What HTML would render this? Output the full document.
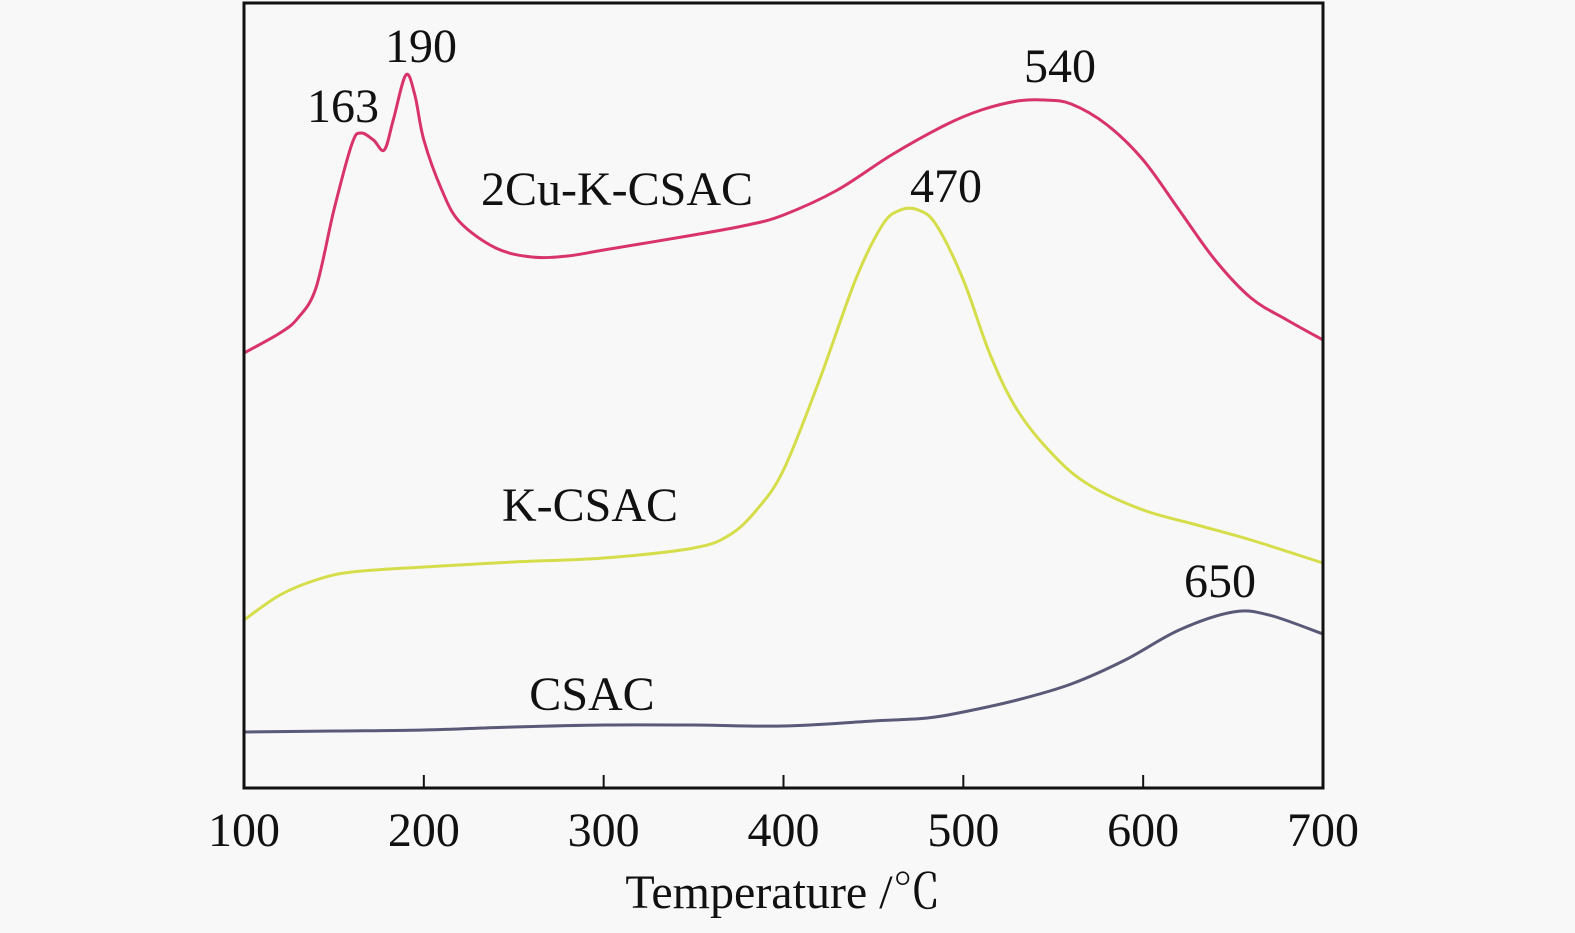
<!DOCTYPE html>
<html><head><meta charset="utf-8"><style>
html,body{margin:0;padding:0;background:#f8f8f8;}
svg{display:block;}
text{font-family:"Liberation Serif","Noto Serif CJK SC",serif;fill:#111;}
</style></head><body>
<svg id="chart" width="1575" height="933" viewBox="0 0 1575 933">
<rect width="1575" height="933" fill="#f8f8f8"/>
<g id="series"></g>
<rect x="244" y="3" width="1079" height="785" fill="none" stroke="#111" stroke-width="3"/>
<g id="ticks"></g>
<text x="783" y="908" font-size="48" text-anchor="middle">Temperature /℃</text>
<g font-size="48" text-anchor="middle">
<text x="421" y="62">190</text>
<text x="343" y="122">163</text>
<text x="1060" y="82">540</text>
<text x="617" y="205">2Cu-K-CSAC</text>
<text x="946" y="202">470</text>
<text x="590" y="521">K-CSAC</text>
<text x="1220" y="597">650</text>
<text x="592" y="710">CSAC</text>
</g>
</svg>
<script>
const xTicks=[100,200,300,400,500,600,700];
const cuT=[100,120,130,140,150,160,165,172,178,183,190,195,200,210,220,240,260,280,300,350,380,400,430,460,490,510,530,545,560,580,600,620,640,660,680,700];
const cuV=[435,455,470,500,578,644,655,648,638,668,713,693,648,598,566,540,531,532,538,553,563,573,598,633,663,678,687,688,684,663,628,578,528,490,468,448];
const kT=[100,120,140,160,200,250,300,350,370,385,400,420,440,455,465,475,485,500,515,530,550,570,600,630,660,700];
const kV=[168,193,208,216,221,226,230,240,253,278,318,408,508,563,578,578,563,508,433,378,333,303,278,263,248,225];
const cT=[100,150,200,250,300,350,400,450,480,500,530,560,590,620,650,670,700];
const cV=[56,57,58,61,63,63,62,67,70,76,88,104,128,158,176,173,154];
const X0=244,X1=1323,Yb=788;
function sx(t){return X0+(t-100)/600*(X1-X0);}
function sy(v){return Yb-v;}
function pathFor(T,V){
  const p=T.map((t,i)=>[sx(t),sy(V[i])]);
  let d='M'+p[0][0]+','+p[0][1];
  for(let i=0;i<p.length-1;i++){
    const a=p[Math.max(i-1,0)],b=p[i],c=p[i+1],e=p[Math.min(i+2,p.length-1)];
    const c1=[b[0]+(c[0]-a[0])/6,b[1]+(c[1]-a[1])/6],c2=[c[0]-(e[0]-b[0])/6,c[1]-(e[1]-b[1])/6];
    d+=' C'+c1+' '+c2+' '+c;
  }
  return d;
}
const NS='http://www.w3.org/2000/svg';
const g=document.getElementById('series');
[[cuT,cuV,'#d8336a','line-2cu-k-csac'],[kT,kV,'#d6dd4a','line-k-csac'],[cT,cV,'#5a5a78','line-csac']].forEach(s=>{
  const el=document.createElementNS(NS,'path');
  el.setAttribute('d',pathFor(s[0],s[1]));
  el.setAttribute('fill','none');el.setAttribute('stroke',s[2]);el.setAttribute('stroke-width','3');
  
  
  g.appendChild(el);
});
const tg=document.getElementById('ticks');
xTicks.forEach(t=>{
  const l=document.createElementNS(NS,'line');
  l.setAttribute('x1',sx(t));l.setAttribute('x2',sx(t));l.setAttribute('y1',Yb);l.setAttribute('y2',Yb-13);
  l.setAttribute('stroke','#111');l.setAttribute('stroke-width','2');
  
  
  tg.appendChild(l);
  const tx=document.createElementNS(NS,'text');
  tx.setAttribute('x',sx(t));tx.setAttribute('y',846);tx.setAttribute('font-size','48');tx.setAttribute('text-anchor','middle');
  tx.textContent=t;
  
  
  tg.appendChild(tx);
});
</script>
</body></html>
